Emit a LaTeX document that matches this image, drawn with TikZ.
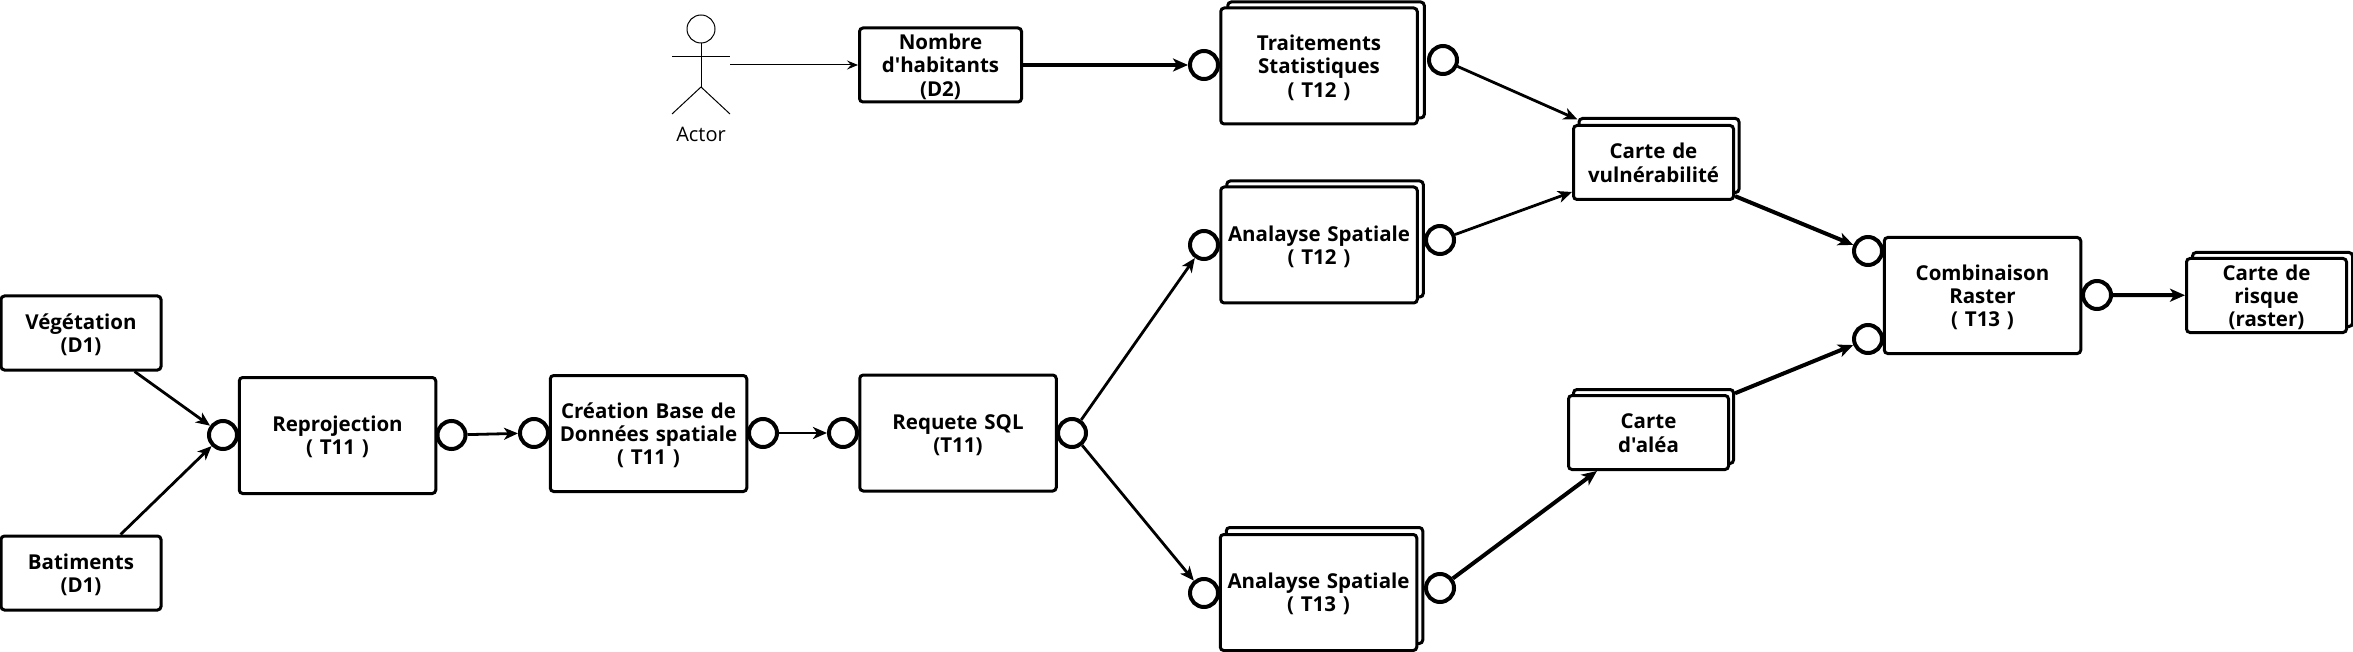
\documentclass[tikz,border=0pt]{standalone}
\usepackage{fontspec}
\newfontfamily\lbl{Open Sans}
\usetikzlibrary{arrows.meta}
\tikzset{
  box/.style={draw=black,fill=white,line width=3pt,rounded corners=3.5pt,inner sep=0pt,align=center,
    font=\fontsize{20.5}{23.2}\selectfont\lbl\bfseries,
    execute at begin node={\rule{0pt}{19pt}},
    execute at end node={\rule[-3pt]{0pt}{3pt}}},
  task/.style={box,text width=192pt,minimum width=196.5pt,minimum height=116pt},
  datum/.style={box,text width=156pt,minimum width=160pt,minimum height=74pt},
  port/.style={draw=black,fill=white,line width=4pt,circle,minimum size=28pt,inner sep=0pt},
  conn/.style={draw=black,line width=2.8pt,-{Stealth[length=14pt,width=12pt,inset=4pt]}},
  connb/.style={draw=black,line width=4pt,-{Stealth[length=15pt,width=13pt,inset=4pt]}},
  thin conn/.style={draw=black,line width=1pt,-{Stealth[length=11pt,width=9pt,inset=4pt]}},
  stick/.style={draw=black,line width=1pt},
}
\begin{document}
\begin{tikzpicture}[x=1pt,y=-1pt]
\useasboundingbox (0,0) rectangle (2353,652);

% Nodes
\node[datum] (veg) at (81,333) {Végétation\\(D1)};
\node[datum] (bat) at (81,573) {Batiments\\(D1)};
\node[task] (reproj) at (337.5,435.5) {Reprojection\\( T11 )};
\node[task] (creat) at (648.5,433.5) {Création Base de\\Données spatiale\\( T11 )};
\node[task] (req) at (958,433) {Requete SQL\\(T11)};
\node[datum,minimum width=162pt] (nomb) at (940.5,65) {Nombre\\d'habitants\\(D2)};

\node[task] (tsB) at (1326,60) {};
\node[task] (ts) at (1319,66) {Traitements\\Statistiques\\( T12 )};
\node[task] (a12B) at (1325,239) {};
\node[task] (a12) at (1319,245) {Analayse Spatiale\\( T12 )};
\node[task] (a13B) at (1324.5,585.5) {};
\node[task] (a13) at (1318.5,592.5) {Analayse Spatiale\\( T13 )};

\node[datum] (vulnB) at (1659,155.5) {};
\node[datum] (vuln) at (1653.5,162.5) {Carte de\\vulnérabilité};
\node[datum] (aleaB) at (1653.5,426.5) {};
\node[datum] (alea) at (1648.5,432.5) {Carte\\d'aléa};
\node[task] (comb) at (1982.5,295.5) {Combinaison\\Raster\\( T13 )};
\node[datum] (risqB) at (2272.5,289.5) {};
\node[datum] (risq) at (2266.5,295.5) {Carte de\\risque\\(raster)};

% Ports
\node[port] (pReprojL) at (223,435) {};
\node[port] (pReprojR) at (451.5,435) {};
\node[port] (pCreatL) at (534,433) {};
\node[port] (pCreatR) at (763,433) {};
\node[port] (pReqL) at (843,433) {};
\node[port] (pReqR) at (1072,433) {};
\node[port] (pTsL) at (1204,65) {};
\node[port] (pTsR) at (1443,60) {};
\node[port] (pA12L) at (1204,245) {};
\node[port] (pA12R) at (1440,240) {};
\node[port] (pA13L) at (1204,593) {};
\node[port] (pA13R) at (1440,588) {};
\node[port] (pCombA) at (1868,251) {};
\node[port] (pCombB) at (1868,339) {};
\node[port] (pCombR) at (2097,295) {};

% Actor
\node[draw=black,line width=1pt,circle,minimum size=28pt,inner sep=0pt] (head) at (701,29) {};
\coordinate (armL) at (672,57);
\coordinate (armR) at (730,57);
\coordinate (hip) at (701,87);
\coordinate (footL) at (672,114);
\coordinate (footR) at (730,114);
\coordinate (hand) at (730,65);
\draw[stick] (head.south) -- (hip);
\draw[stick] (armL) -- (armR);
\draw[stick] (footL) -- (hip) -- (footR);
\node[font=\fontsize{20}{23}\selectfont\lbl] (actor) at (701,134) {Actor};

% Connectors
\draw[conn] (veg) -- (pReprojL);
\draw[conn] (bat) -- (pReprojL);
\draw[conn] (pReprojR) -- (pCreatL);
\draw[conn] (pCreatR) -- (pReqL);
\draw[conn] (pReqR) -- (pA12L);
\draw[conn] (pReqR) -- (pA13L);
\draw[thin conn] (hand) -- (nomb);
\draw[connb] (nomb) -- (pTsL);
\draw[conn] (pTsR) -- (vulnB);
\draw[conn] (pA12R) -- (vuln);
\draw[connb] (vuln) -- (pCombA);
\draw[connb] (aleaB) -- (pCombB);
\draw[connb] (pA13R) -- (alea);
\draw[connb] (pCombR) -- (risq);
\end{tikzpicture}
\end{document}
